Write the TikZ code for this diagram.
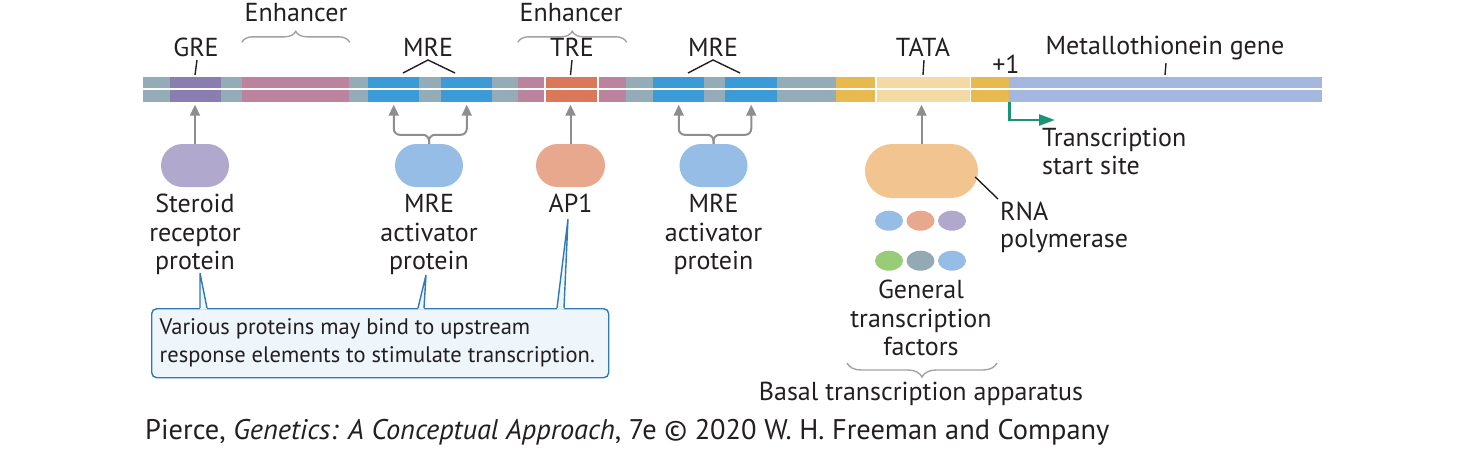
\documentclass[tikz,border=0pt]{standalone}
\usepackage{fontspec}
\setmainfont{PT Sans}
\usetikzlibrary{arrows.meta,decorations.pathreplacing,shapes.misc,shapes.geometric}
\definecolor{segGray}{HTML}{94ABB8}
\definecolor{segPurple}{HTML}{8A7EB0}
\definecolor{segPink}{HTML}{BC839E}
\definecolor{segBlue}{HTML}{3C9AD6}
\definecolor{segOrange}{HTML}{DB7859}
\definecolor{segGold}{HTML}{E7B94F}
\definecolor{segTan}{HTML}{F3D9A4}
\definecolor{segGene}{HTML}{A3B7DF}
\definecolor{blobPurple}{HTML}{B1A8CD}
\definecolor{blobBlue}{HTML}{95BDE6}
\definecolor{blobSalmon}{HTML}{E7A88E}
\definecolor{blobPol}{HTML}{F2C490}
\definecolor{blobGreen}{HTML}{99CC77}
\definecolor{blobSlate}{HTML}{93AAB5}
\definecolor{arrowGray}{HTML}{8E8E8E}
\definecolor{braceGray}{HTML}{A2A2A2}
\definecolor{calloutBlue}{HTML}{2F7AB6}
\definecolor{calloutFill}{HTML}{EEF6FC}
\definecolor{startGreen}{HTML}{1B9474}
\definecolor{ink}{HTML}{231F20}
\newcommand\dnaseg[4]{\node[segbox, fill=#4, minimum width={(#3)-(#2)}] (#1) at ({((#2)+(#3))/2},89) {};}
\tikzset{
  segbox/.style={draw=none, inner sep=0pt, minimum height=25pt, rectangle},
  tick/.style={draw=ink, line width=1.4pt},
  garrow/.style={draw=arrowGray, line width=2pt, -{Triangle[length=11pt,width=10pt]}, shorten >=3pt},
  blob/.style={rounded rectangle, draw=none, inner sep=0pt, minimum width=68pt, minimum height=43pt},
  gtf/.style={ellipse, draw=none, inner sep=0pt, minimum width=28pt, minimum height=20pt},
  bracestyle/.style={draw=braceGray, line width=1.4pt, decorate, decoration={brace, amplitude=#1}},
  lbl/.style={text=ink, inner sep=0pt},
  pointer/.style={draw=calloutBlue, line width=1.4pt, line join=miter},
}
\begin{document}
\begin{tikzpicture}[x=1pt,y=-1pt, font=\fontsize{26}{28.5}\selectfont]
\useasboundingbox (0,0) rectangle (1464,450);
% DNA bar
\dnaseg{g1}{143}{170.5}{segGray}
\dnaseg{gre}{170}{221.5}{segPurple}
\dnaseg{g2}{221}{242.5}{segGray}
\dnaseg{enh1}{242}{349.5}{segPink}
\dnaseg{g3}{349}{368.5}{segGray}
\dnaseg{mreA}{368}{419.5}{segBlue}
\dnaseg{g4}{419}{441.5}{segGray}
\dnaseg{mreB}{441}{492.5}{segBlue}
\dnaseg{g5}{492}{518.5}{segGray}
\dnaseg{pk1}{518}{544}{segPink}
\dnaseg{tre}{545.6}{597}{segOrange}
\dnaseg{pk2}{598.6}{626.5}{segPink}
\dnaseg{g6}{626}{653.5}{segGray}
\dnaseg{mreC}{653}{704.5}{segBlue}
\dnaseg{g7}{704}{725.5}{segGray}
\dnaseg{mreD}{725}{777.5}{segBlue}
\dnaseg{g8}{777}{836.5}{segGray}
\dnaseg{gd1}{836}{875}{segGold}
\dnaseg{tata}{876.6}{969.6}{segTan}
\dnaseg{gd2}{971.2}{1009.5}{segGold}
\dnaseg{gene}{1009}{1322}{segGene}
\draw[white, line width=1.8pt] (g1.west) -- (gene.east);

% top labels
\node[lbl, anchor=base] (enhLabA) at (296,21) {Enhancer};
\draw[bracestyle=11pt] ([yshift=34pt]enh1.north west) -- ([yshift=34pt]enh1.north east);
\node[lbl, anchor=base] (enhLabB) at (571,21) {Enhancer};
\draw[bracestyle=11pt] ([yshift=34pt]pk1.north west) -- ([yshift=34pt]pk2.north east);
\node[lbl, anchor=base] (greLab) at (196,56) {GRE};
\draw[tick] (197,60) -- (195,75);
\node[lbl, anchor=base] (mreLabA) at (428,56) {MRE};
\draw[tick] (403,73) -- (428,60) -- (455,73);
\node[lbl, anchor=base] (treLab) at (572,56) {TRE};
\draw[tick] (572,60) -- (570.5,75);
\node[lbl, anchor=base] (mreLabB) at (713,56) {MRE};
\draw[tick] (688,73) -- (713,60) -- (740,73);
\node[lbl, anchor=base] (tataLab) at (923,56) {TATA};
\draw[tick] (924,60) -- (923,75);
\node[lbl, anchor=base] (plusOne) at (1006,73) {+1};
\node[lbl, anchor=base] (geneLab) at (1165,54) {Metallothionein gene};
\draw[tick] (1166,63) -- (1165,75);

% binding proteins
\node[blob, fill=blobPurple] (sr) at (195,165.5) {};
\node[blob, fill=blobBlue] (mr1) at (429,165.5) {};
\node[blob, fill=blobSalmon, minimum width=69pt] (ap) at (570.5,165.5) {};
\node[blob, fill=blobBlue] (mr2) at (713.5,165.5) {};
\node[blob, fill=blobPol, minimum width=113pt, minimum height=54pt] (pol) at (921.5,171) {};

\draw[garrow] (sr.north) -- (sr.north |- gre.south);
\draw[garrow, rounded corners=6pt] (mr1.north) -- ++(0,-9) -| (mreA.south);
\draw[garrow, rounded corners=6pt] (mr1.north) -- ++(0,-9) -| (mreB.south);
\draw[garrow] (ap.north) -- (ap.north |- tre.south);
\draw[garrow, rounded corners=6pt] (mr2.north) -- ++(0,-9) -| (mreC.south);
\draw[garrow, rounded corners=6pt] (mr2.north) -- ++(0,-9) -| (mreD.south);
\draw[garrow] (pol.north) -- (pol.north |- tata.south);

\node[lbl, anchor=north, align=center] (srLab) at (195,194) {Steroid\\receptor\\protein};
\node[lbl, anchor=north, align=center] (mr1Lab) at (429,194) {MRE\\activator\\protein};
\node[lbl, anchor=north, align=center] (apLab) at (570.5,194) {AP1};
\node[lbl, anchor=north, align=center] (mr2Lab) at (713.5,194) {MRE\\activator\\protein};

% general transcription factors
\node[gtf, fill=blobBlue] (t1) at (889,220.7) {};
\node[gtf, fill=blobSalmon] (t2) at (920.5,220.7) {};
\node[gtf, fill=blobPurple] (t3) at (952,220.7) {};
\node[gtf, fill=blobGreen] (t4) at (889,260.7) {};
\node[gtf, fill=blobSlate] (t5) at (920.5,260.7) {};
\node[gtf, fill=blobBlue] (t6) at (952,260.7) {};
\node[lbl, anchor=north, align=center] (gtfLab) at (921,280) {General\\transcription\\factors};
\draw[bracestyle=14pt] (997,363) -- (847,363);
\node[lbl, anchor=base] (basalLab) at (921,400) {Basal transcription apparatus};

\node[lbl, anchor=north west, align=left, font=\fontsize{26}{27}\selectfont] (polLab) at (1000,202) {RNA\\polymerase};
\draw[tick] ([xshift=-3pt,yshift=-6pt]pol.east) -- ([xshift=-2pt,yshift=3pt]polLab.north west);

% transcription start site
\node[lbl, anchor=north west, align=left, font=\fontsize{26}{28}\selectfont] (tssLab) at (1042,128) {Transcription\\start site};
\coordinate (tssTip) at (1055,120);
\draw[draw=startGreen, line width=2.6pt, -{Triangle[length=16pt,width=11pt]}] (gd2.south east) -- (gd2.south east |- tssTip) -- (tssTip);

% callout
\node[draw=calloutBlue, fill=calloutFill, line width=1.4pt, rounded corners=5pt, anchor=north west,
      minimum width=457pt, minimum height=69pt, text width=441pt, inner xsep=8pt, inner ysep=0pt,
      align=flush left, text=ink, font=\fontsize{22.5}{28}\selectfont] (call) at (151,308)
  {Various proteins may bind to upstream\\response elements to stimulate transcription.};
\coordinate (pA) at (200,273);
\coordinate (pB) at (426,275);
\coordinate (pC) at (568,219);
\fill[calloutFill] (pA) -- (200,309.5) -- (207,309.5) -- cycle;
\draw[pointer] (200,308) -- (pA) -- (207,308);
\fill[calloutFill] (pB) -- (418,309.5) -- (424,309.5) -- cycle;
\draw[pointer] (418,308) -- (pB) -- (424,308);
\fill[calloutFill] (pC) -- (557,309.5) -- (564,309.5) -- cycle;
\draw[pointer] (557,308) -- (pC) -- (564,308);

% credit
\node[lbl, anchor=base west, font=\fontsize{28.4}{30}\selectfont] (credit) at (145,439)
  {Pierce, \textit{Genetics: A Conceptual Approach}, 7e © 2020 W. H. Freeman and Company};
\end{tikzpicture}
\end{document}
